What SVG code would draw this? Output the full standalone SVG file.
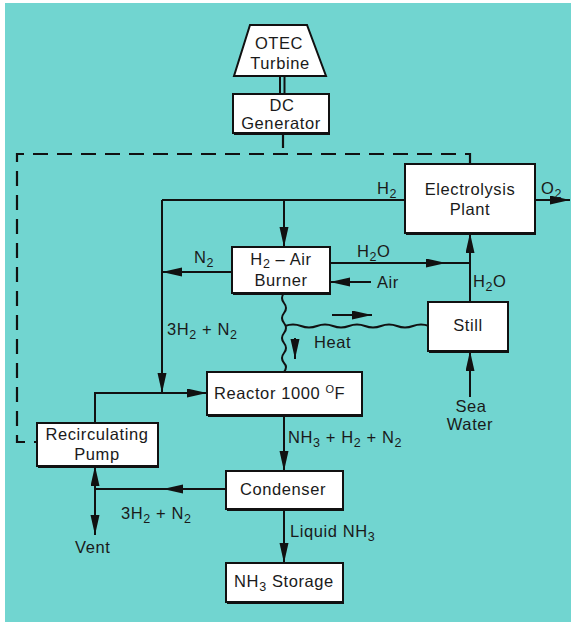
<svg xmlns="http://www.w3.org/2000/svg" width="571" height="622" viewBox="0 0 571 622">
<style>
.t{font-family:"Liberation Sans",Arial,sans-serif;font-size:16.5px;fill:#1a1a1a;letter-spacing:0.6px}
.m{text-anchor:middle}
.box{fill:#ffffff;stroke:#111;stroke-width:2}
.sh{fill:#111}
.ln{fill:none;stroke:#111;stroke-width:2}
.ar{fill:none;stroke:#111;stroke-width:2;marker-end:url(#ah)}
.dash{fill:none;stroke:#111;stroke-width:2.2;stroke-dasharray:15 9}
.wv{fill:none;stroke:#111;stroke-width:2}
</style>
<defs>
<marker id="ah" markerUnits="userSpaceOnUse" markerWidth="21" markerHeight="10" refX="20" refY="4.5" orient="auto">
<path d="M0,0 L20,4.5 L0,9 Z" fill="#111"/>
</marker>
</defs>
<rect x="0" y="0" width="571" height="622" fill="#ffffff"/>
<rect x="5" y="3" width="566" height="619" fill="#71D5D0"/>

<g id="connectors">
<path class="dash" d="M283 133 V154"/>
<path class="dash" d="M470 164 V154 H17 V442 H37"/>
<line class="ln" x1="280" y1="76" x2="280" y2="94"/>
<line class="ln" x1="284.5" y1="76" x2="284.5" y2="94"/>
<path class="ln" d="M405 200 H162"/>
<path class="ar" d="M284 200 V247"/>
<path class="ar" d="M162 200 V393"/>
<path class="ar" d="M232 272 H162"/>
<path class="ar" d="M535 200 H570"/>
<path class="ar" d="M330 263 H446"/>
<path class="ln" d="M440 263 H470"/>
<path class="ar" d="M470 302 V233"/>
<path class="ar" d="M371 282 H330"/>
<path class="ar" d="M470 397 V351"/>
<path class="wv" d="M284 293 q-4 5 0 10 q4 5 0 10 q-4 5 0 10 q4 5 0 10 q-4 5 0 10 q4 5 0 10 q-4 5 0 10 q4 4 0 9"/>
<path class="wv" d="M285 326 q8 -3 16 0 q8 3 16 0 q8 -3 16 0 q8 3 16 0 q8 -3 16 0 q8 3 16 0 q8 -3 16 0 q8 3 16 0 q8 -3 16 0 L428 326"/>
<path class="ar" d="M332 315 H372"/>
<path class="ar" d="M295 338 V359"/>
<path class="ar" d="M95 423 V393 H207"/>
<path class="ar" d="M284 415 V471"/>
<path class="ar" d="M226 489 H163"/>
<path class="ln" d="M170 489 H95"/>
<path class="ar" d="M95 489 V466"/>
<path class="ar" d="M95 489 V535"/>
<path class="ar" d="M284 509 V563"/>
</g>

<g id="otec-turbine">
<polygon points="250,25 307,25 326,76 234,76" fill="#fff" stroke="#111" stroke-width="2"/>
<text class="t m" x="279" y="49">OTEC</text>
<text class="t m" x="280" y="69">Turbine</text>
</g>

<g id="dc-generator">
<rect class="sh" x="234" y="95" width="96" height="40"/>
<rect class="box" x="233" y="94" width="96" height="39"/>
<text class="t m" x="282" y="111">DC</text>
<text class="t m" x="281" y="129">Generator</text>
</g>

<g id="electrolysis-plant">
<rect class="sh" x="406" y="165" width="130" height="70"/>
<rect class="box" x="405" y="164" width="130" height="69"/>
<text class="t m" x="470" y="195">Electrolysis</text>
<text class="t m" x="470" y="215">Plant</text>
</g>

<g id="burner">
<rect class="sh" x="233" y="248" width="98" height="47"/>
<rect class="box" x="232" y="247" width="98" height="46"/>
<text class="t m" x="281" y="265">H<tspan font-size="12.5" dy="3">2</tspan><tspan dy="-3"> – Air</tspan></text>
<text class="t m" x="281" y="286">Burner</text>
</g>

<g id="still">
<rect class="sh" x="429" y="303" width="80" height="50"/>
<rect class="box" x="428" y="302" width="80" height="49"/>
<text class="t m" x="468" y="331">Still</text>
</g>

<g id="reactor">
<rect class="sh" x="208" y="373" width="155" height="44"/>
<rect class="box" x="207" y="372" width="155" height="43"/>
<text class="t" x="214" y="399">Reactor 1000 <tspan font-size="11" dy="-6">O</tspan><tspan dy="6">F</tspan></text>
</g>

<g id="recirculating-pump">
<rect class="sh" x="38" y="424" width="121" height="44"/>
<rect class="box" x="37" y="423" width="121" height="43"/>
<text class="t m" x="97" y="440">Recirculating</text>
<text class="t m" x="97" y="460">Pump</text>
</g>

<g id="condenser">
<rect class="sh" x="227" y="472" width="117" height="39"/>
<rect class="box" x="226" y="471" width="117" height="38"/>
<text class="t m" x="283" y="495">Condenser</text>
</g>

<g id="nh3-storage">
<rect class="sh" x="227" y="564" width="117" height="40"/>
<rect class="box" x="226" y="563" width="117" height="39"/>
<text class="t m" x="284" y="587">NH<tspan font-size="12.5" dy="4">3</tspan><tspan dy="-4"> Storage</tspan></text>
</g>

<g id="labels">
<text class="t" x="377" y="194">H<tspan font-size="12.5" dy="4">2</tspan></text>
<text class="t" x="541" y="194">O<tspan font-size="12.5" dy="4">2</tspan></text>
<text class="t" x="194" y="263">N<tspan font-size="12.5" dy="4">2</tspan></text>
<text class="t" x="357" y="257">H<tspan font-size="12.5" dy="4">2</tspan><tspan dy="-4">O</tspan></text>
<text class="t" x="377" y="288">Air</text>
<text class="t" x="473" y="287">H<tspan font-size="12.5" dy="4">2</tspan><tspan dy="-4">O</tspan></text>
<text class="t" x="167" y="335">3H<tspan font-size="12.5" dy="4">2</tspan><tspan dy="-4"> + N</tspan><tspan font-size="12.5" dy="4">2</tspan></text>
<text class="t" x="314" y="348">Heat</text>
<text class="t m" x="471" y="412">Sea</text>
<text class="t m" x="470" y="430">Water</text>
<text class="t" x="288" y="443">NH<tspan font-size="12.5" dy="4">3</tspan><tspan dy="-4"> + H</tspan><tspan font-size="12.5" dy="4">2</tspan><tspan dy="-4"> + N</tspan><tspan font-size="12.5" dy="4">2</tspan></text>
<text class="t" x="121" y="519">3H<tspan font-size="12.5" dy="4">2</tspan><tspan dy="-4"> + N</tspan><tspan font-size="12.5" dy="4">2</tspan></text>
<text class="t" x="75" y="553">Vent</text>
<text class="t" x="290" y="537">Liquid NH<tspan font-size="12.5" dy="4">3</tspan></text>
</g>
</svg>
